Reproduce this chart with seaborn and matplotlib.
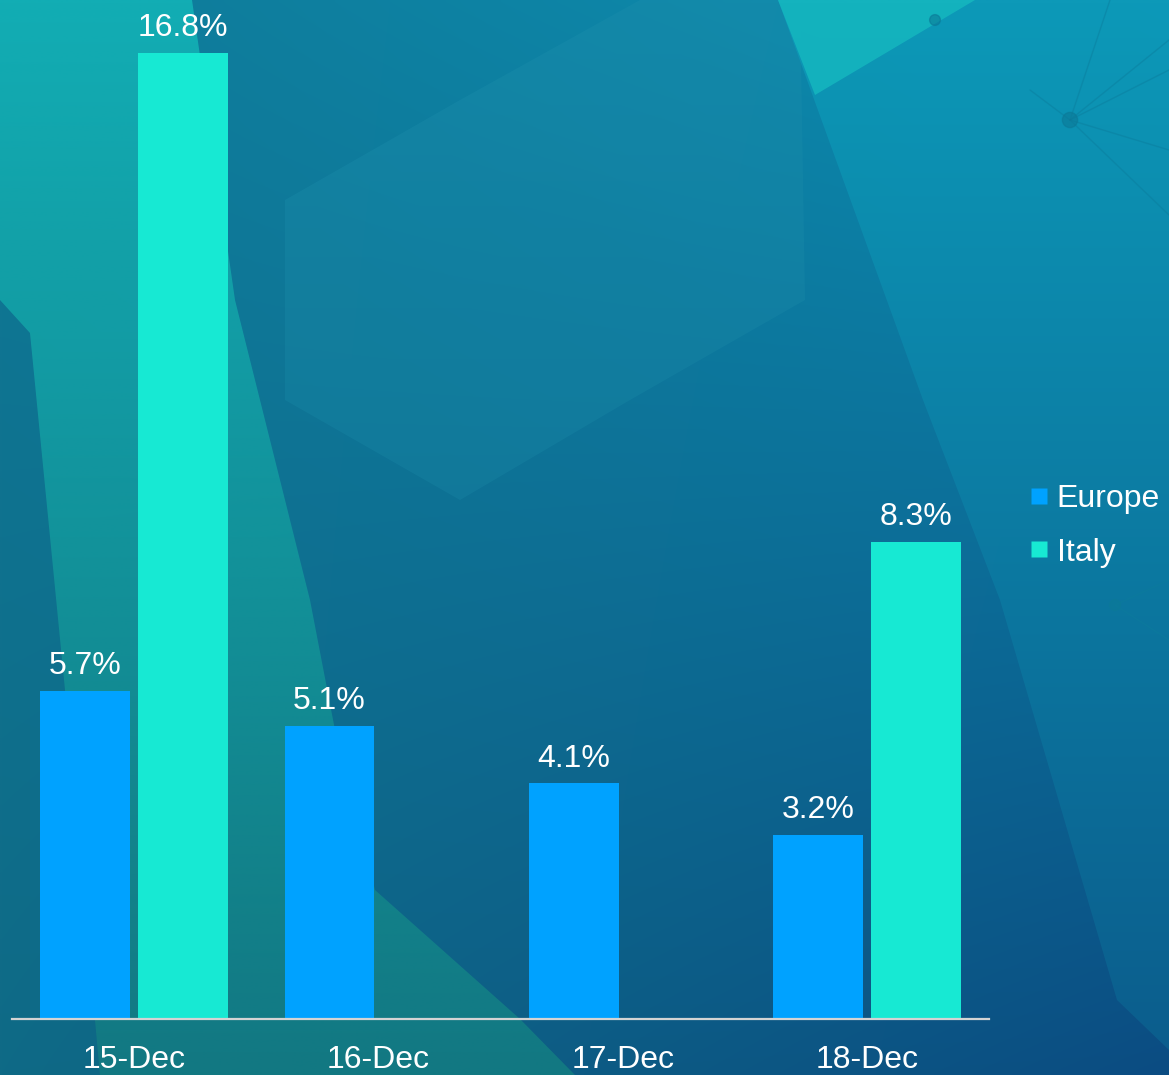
import numpy as np
import pandas as pd
import matplotlib
matplotlib.use("Agg")
import matplotlib.pyplot as plt
import seaborn as sns
from matplotlib.patches import Polygon
from matplotlib.lines import Line2D
from matplotlib.colors import to_rgb

# ---- data ----
dates = ["15-Dec", "16-Dec", "17-Dec", "18-Dec"]
series = ["Europe", "Italy"]
europe = [5.7, 5.1, 4.1, 3.2]
italy = [16.8, None, None, 8.3]
colors = ["#00A2FF", "#17E9D3"]

rows = []
for d, e, i in zip(dates, europe, italy):
    if e is not None:
        rows.append({"date": d, "series": "Europe", "value": e})
    if i is not None:
        rows.append({"date": d, "series": "Italy", "value": i})
df = pd.DataFrame(rows)

sns.set_theme(style="white")
plt.rcParams["font.family"] = ["Liberation Sans", "DejaVu Sans"]

W, H = 1169, 1075
fig = plt.figure(figsize=(W / 100, H / 100), dpi=100)

# ---- decorative background ----
bg = fig.add_axes([0, 0, 1, 1], zorder=0)
bg.set_xlim(0, W)
bg.set_ylim(H, 0)
bg.axis("off")

def bilinear(tl, tr, bl, br, nx=300, ny=300):
    tl, tr, bl, br = [np.array(to_rgb(c)) for c in (tl, tr, bl, br)]
    u = np.linspace(0, 1, nx)[None, :, None]
    v = np.linspace(0, 1, ny)[:, None, None]
    top = tl * (1 - u) + tr * u
    bot = bl * (1 - u) + br * u
    return top * (1 - v) + bot * v

base = bilinear("#0f7a98", "#0c8fb4", "#0f6a86", "#0b4c82")
bg.imshow(base, extent=(0, W, H, 0), aspect="auto", interpolation="bilinear", zorder=0)

def grad_poly(pts, c_top, c_bot, alpha=1.0, z=1):
    img = bilinear(c_top, c_top, c_bot, c_bot, nx=2, ny=200)
    im = bg.imshow(img, extent=(0, W, H, 0), aspect="auto", interpolation="bilinear",
                   alpha=alpha, zorder=z)
    poly = Polygon(pts, closed=True, transform=bg.transData, facecolor="none", edgecolor="none")
    bg.add_patch(poly)
    im.set_clip_path(poly)

# hexagon-like lighter area (middle top)
grad_poly([(285, 200), (460, 100), (640, 0), (800, 0), (805, 300), (630, 400),
           (460, 500), (285, 400)], "#1b8fad", "#157a9a", alpha=0.4, z=1)
# left teal band
grad_poly([(0, 0), (192, 0), (235, 300), (310, 600), (335, 730), (375, 890),
           (520, 1019), (575, 1075), (100, 1075), (66, 700), (30, 333), (0, 300)],
          "#13b0b6", "#137a82", alpha=0.95, z=2)
# right lighter band
grad_poly([(778, 0), (1169, 0), (1169, 1050), (1117, 1000), (1000, 600), (923, 400)],
          "#0e9cba", "#0c5f8e", alpha=0.85, z=2)
grad_poly([(778, 0), (975, 0), (815, 95)], "#16b8c0", "#14b0bc", alpha=0.85, z=3)

# faint network lines
node = (1070, 120)
for end in [(1169, 40), (1169, 70), (1169, 150), (1169, 215), (1110, 0), (1030, 90)]:
    bg.add_line(Line2D([node[0], end[0]], [node[1], end[1]], color="#0b7c9c", lw=1, alpha=0.45, zorder=4))
bg.add_line(Line2D([1115, 1169], [605, 580], color="#0b7c9c", lw=1, alpha=0.45, zorder=4))
bg.add_line(Line2D([1115, 1169], [605, 640], color="#0b7c9c", lw=1, alpha=0.45, zorder=4))
bg.scatter([1070, 935, 1115], [120, 20, 605], s=[120, 60, 60], color="#0b7a98", alpha=0.6, zorder=5)

# ---- chart ----
ax = fig.add_axes([12 / W, 56 / H, 977 / W, 1019 / H], zorder=1)
ax.set_facecolor("none")
sns.barplot(data=df, x="date", y="value", hue="series", order=dates, hue_order=series,
            palette=colors, saturation=1, width=0.8, gap=0.08, legend=False,
            linewidth=0, edgecolor="none", ax=ax)

for c in ax.containers:
    ax.bar_label(c, labels=[f"{v:.1f}%" for v in c.datavalues], padding=7,
                 color="white", fontsize=23)

ax.set_xlim(-0.5, 3.5)
ax.set_ylim(0, 17.72)
ax.set_xlabel("")
ax.set_ylabel("")
ax.set_yticks([])
for s in ["top", "left", "right"]:
    ax.spines[s].set_visible(False)
ax.spines["bottom"].set_color("#d4d4d4")
ax.spines["bottom"].set_linewidth(1.6)
ax.tick_params(axis="x", length=0, pad=19, labelsize=23, labelcolor="white")

handles = [Line2D([], [], marker="s", linestyle="none", markersize=11,
                  markerfacecolor=col, markeredgecolor="none") for col in colors]
leg = fig.legend(handles, series, loc="center left", bbox_to_anchor=(1031 / W, 1 - 526 / H),
                 frameon=False, fontsize=23, labelcolor="white", handlelength=0.5,
                 handletextpad=0.3, labelspacing=0.72, borderpad=0, borderaxespad=0)

fig.savefig("out.png", dpi=100)
